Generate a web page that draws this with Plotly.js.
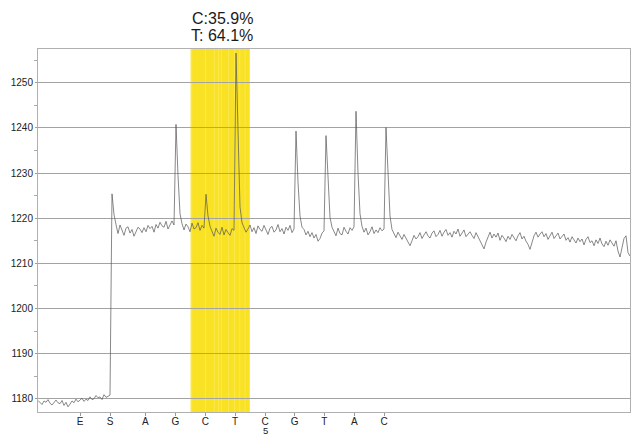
<!DOCTYPE html>
<html>
<head>
<meta charset="utf-8">
<script src="https://cdn.plot.ly/plotly-3.0.1.min.js"></script>
<style>
  html, body { margin: 0; padding: 0; background: #ffffff; }
  #chart { width: 633px; height: 435px; }
</style>
</head>
<body>
<div id="chart"></div>
<script>
// ---- Data ----
// Dispensation order and positions (sample index)
const dispensations = ['E', 'S', 'A', 'G', 'C', 'T', 'C', 'G', 'T', 'A', 'C'];
const positionNumbers = ['', '', '', '', '', '', '5', '', '', '', ''];
const dispensationPos = [21, 36, 53.7, 68.7, 83.7, 98.5, 113.5, 128.3, 143.2, 158.2, 173];

// Allele quantification for the highlighted variable position (C/T)
const alleleLabels = ['C:35.9%', 'T: 64.1%'];
const highlightDispensations = [4, 5]; // indices of the C and T dispensations

// Pyrogram signal (light units), one value per sample
const signal = [
  // pre-substrate baseline
  1179.6, 1179.1, 1178.7, 1179.5, 1179.2, 1179.8, 1179.0, 1178.6, 1179.3, 1179.7,
  1179.1, 1178.9, 1179.6, 1178.5, 1179.2, 1178.2, 1178.8, 1179.5, 1179.1, 1179.9,
  1179.3, 1179.6, 1180.1, 1179.4, 1179.9, 1179.6, 1180.4, 1179.8, 1180.0, 1180.7,
  1180.2, 1180.4, 1179.8, 1180.9, 1180.3, 1180.5, 1180.8,
  // substrate step
  1225.4, 1220.8, 1218.6,
  1216.6, 1218.5, 1217.3, 1216.2, 1217.8, 1218.1, 1216.7, 1217.5, 1216.0, 1217.2,
  1218.0, 1217.6, 1216.8, 1217.9, 1217.0, 1218.4, 1217.7, 1218.2, 1216.9, 1218.6,
  1217.8, 1219.1, 1218.3, 1218.0, 1219.3, 1217.6, 1218.7, 1219.4, 1218.5,
  // G peak
  1240.8, 1229.5, 1221.0, 1218.8,
  1217.4, 1218.7, 1218.1, 1217.0, 1218.9, 1217.6, 1217.9, 1219.0, 1217.3, 1218.4, 1217.8,
  // C peak
  1225.3, 1220.5, 1218.2,
  1217.1, 1216.0, 1217.8, 1216.9, 1216.4, 1218.0, 1216.3, 1217.5, 1216.8, 1216.2, 1217.7, 1217.3,
  // T peak
  1256.6, 1236.0, 1222.5, 1219.0,
  1218.1, 1216.9, 1217.6, 1218.5, 1217.0, 1217.9, 1216.6, 1218.3, 1217.5, 1217.1,
  1218.4, 1217.2, 1216.4, 1217.8, 1218.2, 1216.9, 1217.4, 1218.6, 1217.0, 1217.7,
  1216.5, 1218.0, 1217.3, 1218.4, 1216.8, 1217.6,
  // G peak
  1239.3, 1228.0, 1220.5, 1218.0,
  1217.5, 1216.3, 1217.1, 1215.9, 1216.8, 1215.6, 1216.4, 1214.9, 1215.5, 1216.7, 1217.2,
  // T peak
  1238.3, 1227.5, 1220.2, 1218.0,
  1217.2, 1216.1, 1217.8, 1216.6, 1216.3, 1218.0, 1217.1, 1216.5, 1217.9, 1217.3, 1218.1,
  // A peak
  1243.7, 1230.0, 1221.0, 1218.2,
  1216.9, 1217.8, 1216.3, 1217.0, 1218.1, 1216.6, 1217.4, 1216.8, 1217.9, 1217.2, 1217.6,
  // C peak
  1240.1, 1228.5, 1220.5, 1217.5,
  // tail baseline
  1216.5, 1215.7, 1216.9, 1216.1, 1215.3, 1216.4, 1215.6, 1214.6, 1213.9, 1215.0,
  1216.2, 1215.4, 1215.9, 1216.8, 1215.5, 1216.3, 1217.0, 1216.1, 1215.6, 1216.7,
  1217.2, 1215.9, 1216.4, 1217.3, 1216.0, 1216.9, 1217.5, 1216.2, 1216.8, 1215.8,
  1217.1, 1216.5, 1217.6, 1216.0, 1216.7, 1217.4, 1215.9, 1216.6, 1217.0, 1216.2,
  1215.5, 1216.8, 1215.9, 1214.9, 1214.1, 1213.2, 1214.7, 1216.0, 1216.9, 1215.6,
  1216.5, 1215.8, 1216.7, 1215.1, 1216.2, 1215.6, 1214.8, 1216.0, 1215.3, 1216.4,
  1215.7, 1215.0, 1216.1, 1216.8, 1215.4, 1216.0, 1214.9, 1214.2, 1213.1, 1214.6,
  1216.1, 1216.9, 1215.8, 1216.5, 1217.0, 1215.9, 1216.6, 1215.3, 1216.2, 1216.9,
  1215.5, 1216.0, 1216.7, 1215.4, 1215.9, 1216.5, 1215.1, 1215.7, 1214.7, 1215.9,
  1215.2, 1214.5, 1215.6, 1214.8, 1215.4, 1214.1, 1215.3, 1215.9, 1214.6, 1215.0,
  1213.9, 1215.2, 1214.4, 1215.6, 1214.3, 1213.7, 1214.9, 1214.0, 1215.2, 1214.6,
  1213.8, 1215.0, 1212.7, 1211.4, 1213.6, 1215.5, 1216.1, 1212.4, 1211.6
];

// ---- Chart ----
const FONT = 'Liberation Sans, Arial, Helvetica, sans-serif';

const step = dispensationPos[highlightDispensations[1]] - dispensationPos[highlightDispensations[0]];
const bandStart = dispensationPos[highlightDispensations[0]] - step / 2;
const bandEnd = dispensationPos[highlightDispensations[1]] + step / 2;
const bandCenter = (bandStart + bandEnd) / 2;

const shapes = [{
  type: 'rect', xref: 'x', yref: 'paper',
  x0: bandStart, x1: bandEnd, y0: 0, y1: 1,
  fillcolor: '#F9E223', line: { width: 0 }, layer: 'between'
}];
[0.02, 0.25, 0.40, 0.47, 0.52, 0.64, 0.74, 0.83, 0.92].forEach(f => {
  const xx = bandStart + f * (bandEnd - bandStart);
  shapes.push({
    type: 'line', xref: 'x', yref: 'paper', x0: xx, x1: xx, y0: 0, y1: 1,
    line: { color: 'rgba(255,240,120,0.5)', width: 1 }, layer: 'between'
  });
});

const trace = {
  type: 'scatter', mode: 'lines',
  x0: 0, dx: 1, y: signal,
  line: { color: '#555555', width: 0.7 },
  hoverinfo: 'skip', showlegend: false
};

const annotations = alleleLabels.map((t, k) => ({
  text: t, xref: 'x', yref: 'paper', x: bandCenter, y: 1,
  xanchor: 'center', yanchor: 'middle', xshift: 2,
  yshift: k === 0 ? 31 : 13.5,
  showarrow: false,
  font: { family: FONT, size: 16, color: '#1a1a1a' }
}));
positionNumbers.forEach((n, k) => {
  if (!n) return;
  annotations.push({
    text: n, xref: 'x', yref: 'paper', x: dispensationPos[k], y: 0,
    xanchor: 'center', yanchor: 'middle', yshift: -18.5,
    showarrow: false, borderpad: 0,
    font: { family: FONT, size: 9.5, color: '#222' }
  });
});

const layout = {
  width: 633, height: 435,
  margin: { l: 38, r: 3, t: 49, b: 23, pad: 0 },
  paper_bgcolor: '#ffffff', plot_bgcolor: '#ffffff',
  showlegend: false,
  xaxis: {
    range: [0, 296],
    tickmode: 'array', tickvals: dispensationPos, ticktext: dispensations,
    ticks: 'outside', ticklen: 3, tickcolor: '#999', tickwidth: 1,
    ticklabelstandoff: -3,
    showgrid: false, zeroline: false,
    showline: true, mirror: true, linecolor: '#b0b0b0', linewidth: 1,
    tickfont: { family: FONT, size: 10, color: '#222' }
  },
  yaxis: {
    range: [1177.05, 1257.5],
    tick0: 1180, dtick: 10,
    ticks: 'outside', ticklen: 2, tickcolor: '#999',
    showgrid: true, gridcolor: '#a3a3a3', gridwidth: 1,
    minor: { dtick: 5, tick0: 1180, ticks: 'outside', ticklen: 3, tickcolor: '#aaa', showgrid: false },
    zeroline: false,
    showline: true, mirror: true, linecolor: '#b0b0b0', linewidth: 1,
    tickfont: { family: FONT, size: 10, color: '#222' }
  },
  shapes: shapes,
  annotations: annotations
};

Plotly.newPlot('chart', [trace], layout, { displayModeBar: false, staticPlot: true });
</script>
</body>
</html>
